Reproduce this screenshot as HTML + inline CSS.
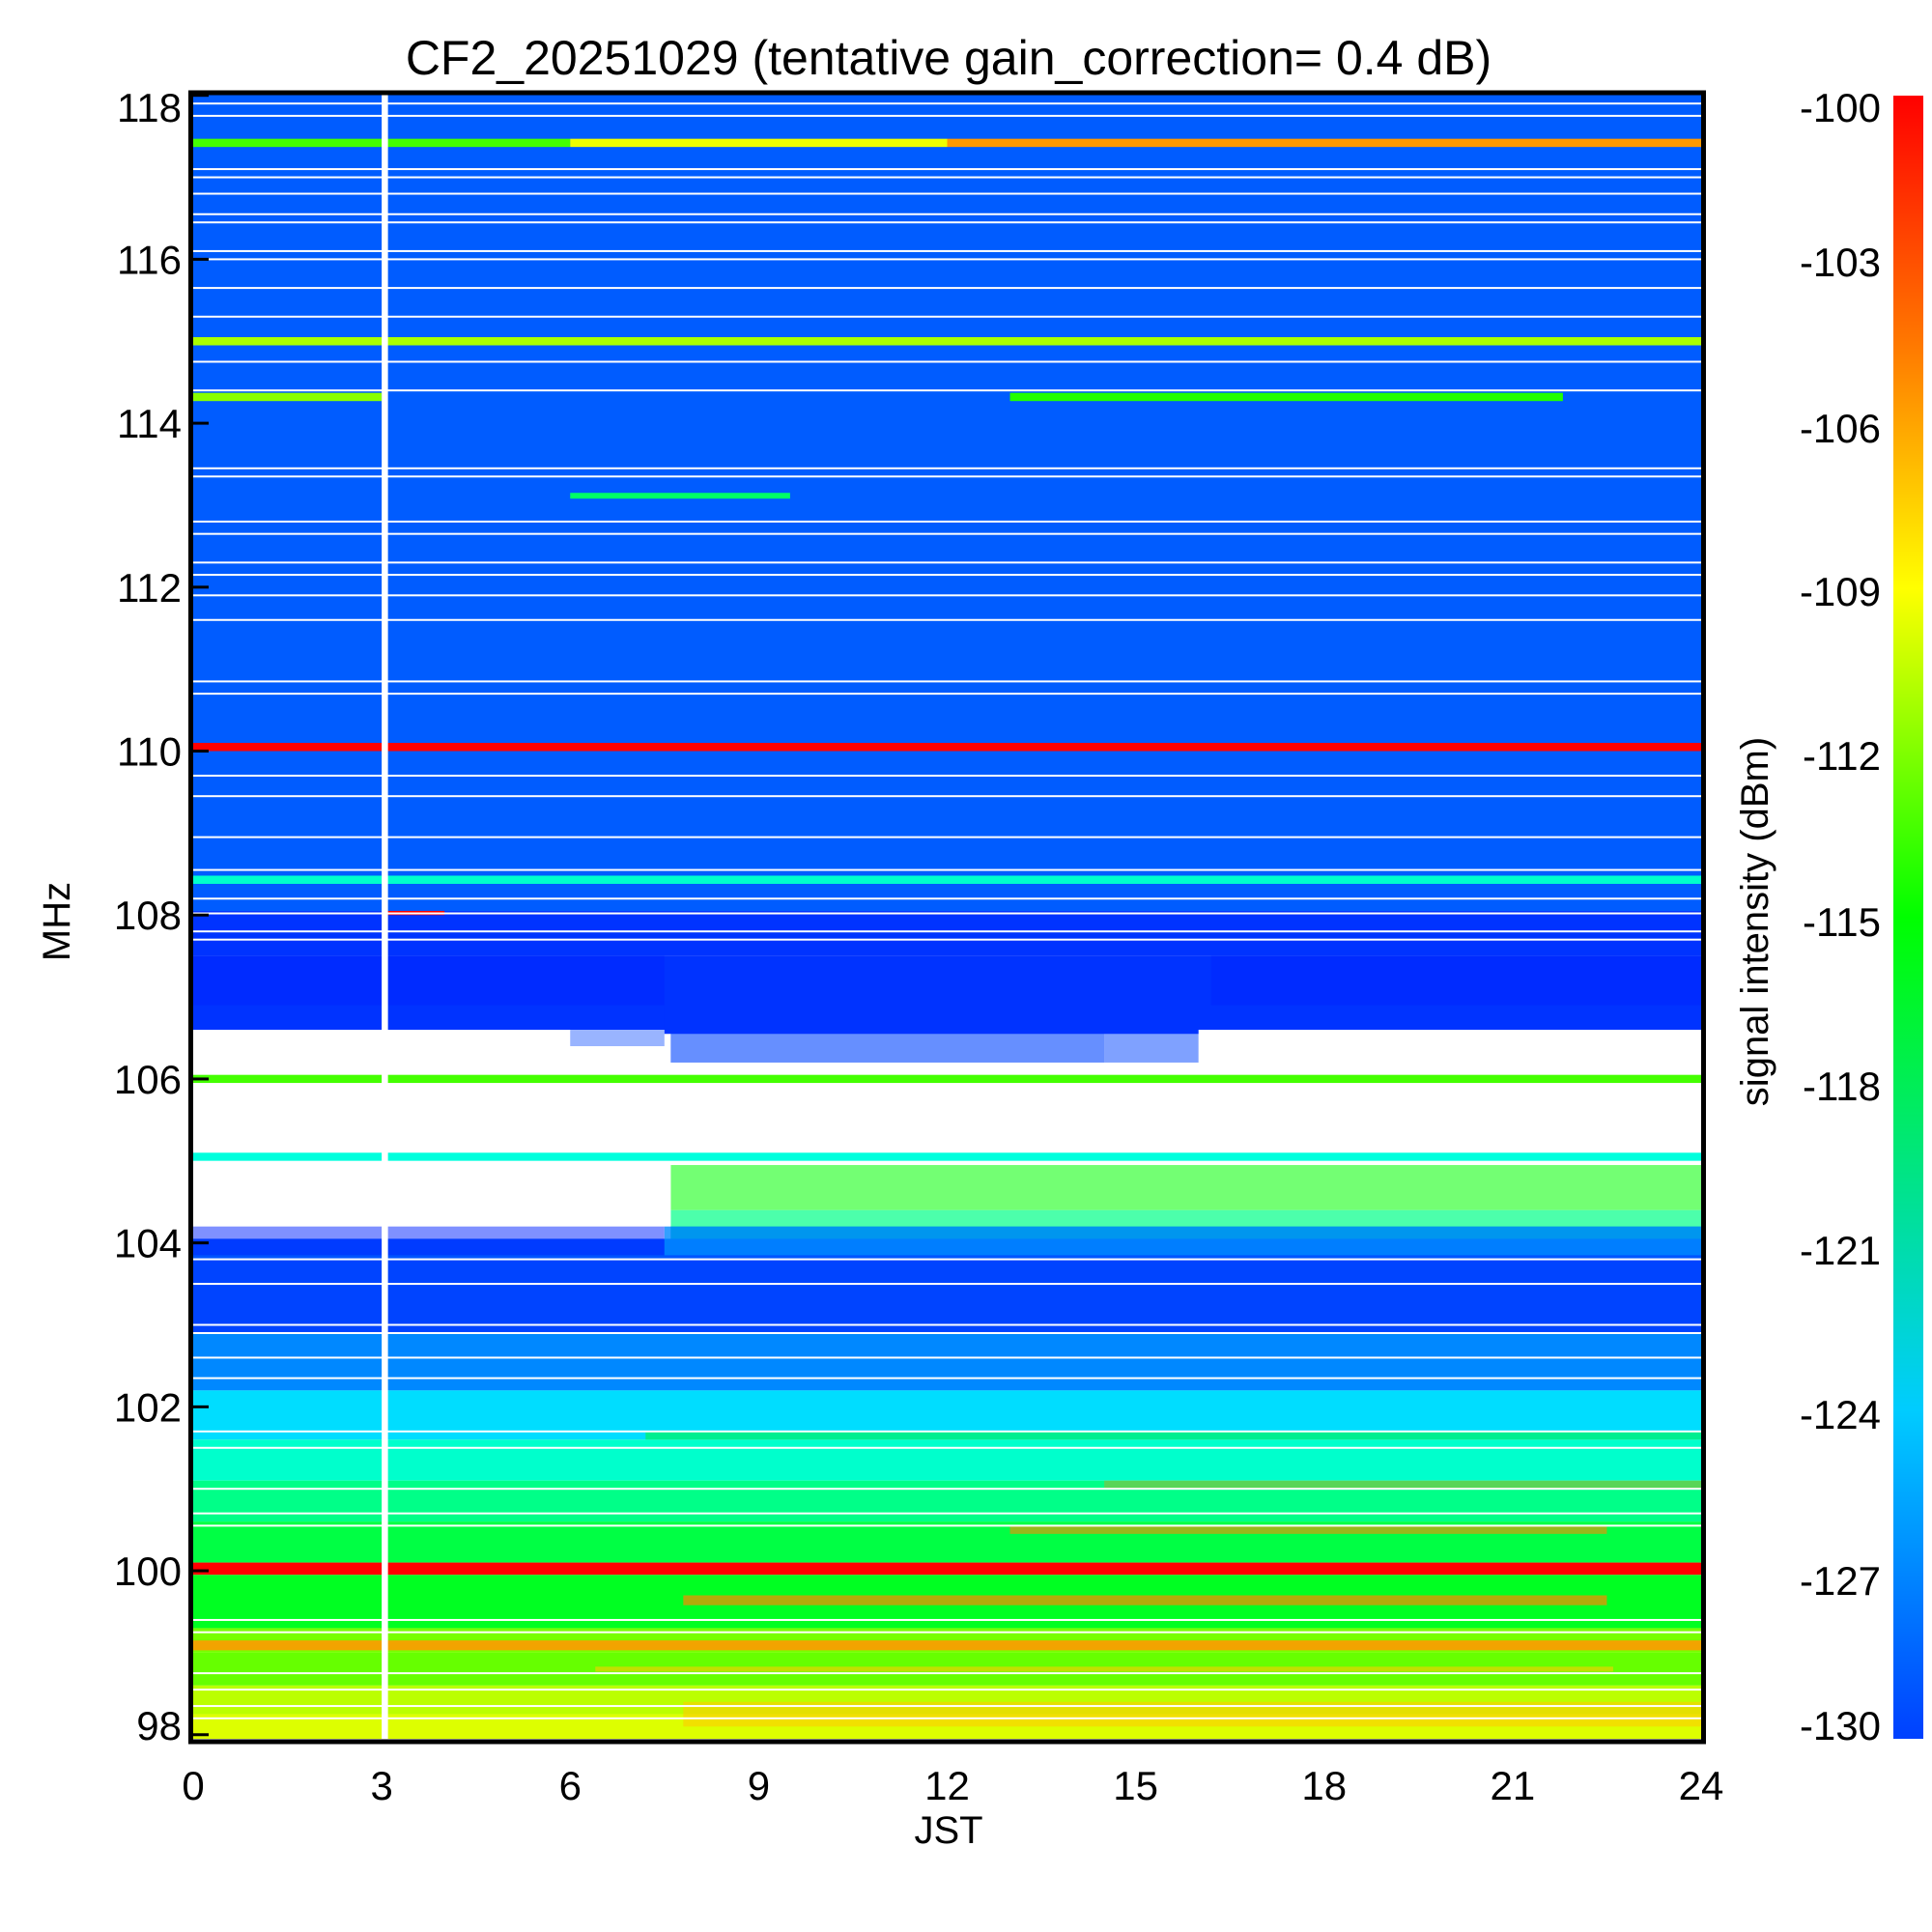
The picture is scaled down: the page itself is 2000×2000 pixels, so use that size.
<!DOCTYPE html>
<html><head><meta charset="utf-8">
<style>
html,body{margin:0;padding:0;background:#fff;}
svg{display:block;font-family:"Liberation Sans",sans-serif;}
</style></head>
<body>
<svg id="chart" width="2000" height="2000" viewBox="0 0 2000 2000" xmlns="http://www.w3.org/2000/svg">
<defs>
<linearGradient id="cbgrad" x1="0" y1="1" x2="0" y2="0">
<stop offset="0" stop-color="hsl(225,100%,50%)"/>
<stop offset="0.2" stop-color="hsl(192,100%,50%)"/>
<stop offset="0.5" stop-color="hsl(120,100%,50%)"/>
<stop offset="0.7" stop-color="hsl(60,100%,50%)"/>
<stop offset="0.85" stop-color="hsl(28,100%,50%)"/>
<stop offset="1" stop-color="hsl(0,100%,50%)"/>
</linearGradient>
<clipPath id="plotclip"><rect x="200" y="97" width="1561" height="1703"/></clipPath>
</defs>
<text x="982" y="77" font-size="50" text-anchor="middle">CF2_20251029 (tentative gain_correction=  0.4 dB)</text>
<g id="heat" clip-path="url(#plotclip)"></g>
<g id="frame"></g>
<g id="xt"></g>
<g id="yt"></g>
<text x="982" y="1908" font-size="40" text-anchor="middle">JST</text>
<text x="72" y="954" font-size="40" text-anchor="middle" transform="rotate(-90 72 954)">MHz</text>
<text x="1830" y="954" font-size="40" text-anchor="middle" transform="rotate(-90 1830 954)">signal intensity (dBm)</text>
<rect x="1960" y="99" width="31" height="1701" fill="url(#cbgrad)"/>
<g id="cb"></g>
</svg>
<script>
// ---- data ----
const xTicks = [0,3,6,9,12,15,18,21,24];
const yTicks = [98,100,102,104,106,108,110,112,114,116,118];
const cbTicks = [-100,-103,-106,-109,-112,-115,-118,-121,-124,-127,-130];
// full-width background bands: [lo MHz, hi MHz, dBm]
const bandLo =  [108.05,107.5,106.6,106.05,105.95,105.1,105.0,104.2,103.8,102.9,102.2,101.6,101.1,100.6,100.1,99.95,99.3,99.0,98.6,98.25,97.9];
const bandHi =  [118.1,108.05,107.5,106.6,106.05,105.95,105.1,105.0,104.2,103.8,102.9,102.2,101.6,101.1,100.6,100.1,99.95,99.3,99.0,98.6,98.25];
const bandLvl = [-127.3,-128.5,-128.5,null,-113,null,-121.5,null,-127.5,-128,-126,-123.5,-121,-119,-117,-100,-116,-111.5,-112,-109.5,-108.5];
// segment events: [start h, end h, lo MHz, hi MHz, dBm] (null = blank/white)
const evStart = [0,6,12,0,13,6,0,0,0,7.6,14.5,6,7.5,7.6,7.6,7.8,0,6.4,7.8,13,3.1,0,0,16.2,0,7.5,14.5,7.2];
const evEnd   = [6,12,24,3,21.8,9.5,24,24,24,14.5,16.0,7.5,16,24,24,22.5,24,22.6,24,22.5,4.0,7.6,7.5,24,7.5,24,24,24];
const evLo    = [117.37,117.37,117.37,114.27,114.27,113.08,114.95,110.0,108.38,106.2,106.2,106.4,106.55,104.4,104.05,99.58,99.03,98.77,98.1,100.45,108.0,104.05,106.9,106.9,103.85,103.85,101.0,101.6];
const evHi    = [117.47,117.47,117.47,114.37,114.37,113.15,115.05,110.1,108.48,106.6,106.6,106.6,107.2,104.95,104.4,99.7,99.15,98.83,98.4,100.55,108.05,104.95,107.5,107.5,104.2,104.2,101.1,101.7];
const evLvl   = [-113,-108,-104.5,-111,-114,-118,-110,-100,-121,-128,-128,-128,-128.5,-115,-119,-104,-104.5,-106,-106,-104,-100,null,-129,-129,-129,-126,-104,-116];
const evAlpha = [1,1,1,1,1,1,1,1,1,0.6,0.5,0.4,1,0.55,0.7,0.7,0.9,0.6,0.6,0.6,1,1,0.45,0.45,0.5,0.8,0.35,0.5];
// thin white gap rows (MHz)
const gapFreqs = [117.9,117.75,117.1,117.0,116.8,116.55,116.45,116.1,116.0,115.65,115.3,114.75,114.4,113.45,113.35,112.8,112.65,112.3,112.15,111.9,111.6,110.85,110.7,109.7,109.45,108.95,108.55,108.2,108.02,107.8,107.7,103.8,103.5,103.0,102.9,102.6,102.35,101.7,101.5,101.0,100.7,100.55,99.4,99.25,98.75,98.55,98.35,98.2];
// data outage column (hours)
const outageStart = [3.0];
const outageEnd = [3.1];

// ---- axes ----
const X0=200,X1=1761,Y0=97,Y1=1800,T0=0,T1=24,F0=97.95,F1=118.02;
const xs = t => X0 + (t-T0)/(T1-T0)*(X1-X0);
const ys = f => Y1 - (f-F0)/(F1-F0)*(Y1-Y0);
const col = v => { const h = Math.max(0,Math.min(240, 240*(-100 - v)/30)); return `hsl(${h.toFixed(1)},100%,50%)`; };
const NS='http://www.w3.org/2000/svg';
function mk(tag, parent, attrs){ const e=document.createElementNS(NS,tag); for(const k in attrs) e.setAttribute(k,attrs[k]); parent.appendChild(e); return e; }
const heat=document.getElementById('heat');
for(let i=0;i<bandLo.length;i++){
  const y=ys(bandHi[i]), h=ys(bandLo[i])-y;
  const r=mk('rect',heat,{x:X0,y:y,width:X1-X0,height:h,fill: bandLvl[i]===null?'#fff':col(bandLvl[i])});
  
  
}
for(let i=0;i<evStart.length;i++){
  const x=xs(evStart[i]), w=xs(evEnd[i])-x, y=ys(evHi[i]), h=ys(evLo[i])-y;
  const r=mk('rect',heat,{x:x,y:y,width:w,height:h,fill: evLvl[i]===null?'#fff':col(evLvl[i]),'fill-opacity':evAlpha[i]});
  
  
}
for(const g of gapFreqs){
  const r=mk('rect',heat,{x:X0,y:ys(g)-1,width:X1-X0,height:2,fill:'#fff'});
  
  
}
for(let i=0;i<outageStart.length;i++){
  const r=mk('rect',heat,{x:xs(outageStart[i]),y:Y0,width:xs(outageEnd[i])-xs(outageStart[i]),height:Y1-Y0,fill:'#fff'});
  
  
}
const frame=document.getElementById('frame');
const fr=mk('rect',frame,{x:X0-2.5,y:Y0-1,width:X1-X0+5,height:Y1-Y0+4,fill:'none',stroke:'#000','stroke-width':5});


const xt=document.getElementById('xt');
for(const t of xTicks){
  const tx=mk('text',xt,{x:xs(t),y:1863,'font-size':42,'text-anchor':'middle'});
  tx.textContent=t;
  
  
}
const yt=document.getElementById('yt');
for(const f of yTicks){
  let y=ys(f)+15; if(f===118) y=126; if(f===98) y=1801;
  const tx=mk('text',yt,{x:188,y:y,'font-size':42,'text-anchor':'end'});
  tx.textContent=f;
  
  
  const tk=mk('line',yt,{x1:X0,x2:X0+16,y1:ys(f),y2:ys(f),stroke:'#000','stroke-width':3});
  
  
}
const cb=document.getElementById('cb');
for(let i=0;i<cbTicks.length;i++){
  const y=[126,286,458,627,797,969,1139,1309,1479,1651,1801][i];
  const tx=mk('text',cb,{x:1947,y:y,'font-size':42,'text-anchor':'end'});
  tx.textContent=cbTicks[i];
  
  
}
</script>
</body></html>
